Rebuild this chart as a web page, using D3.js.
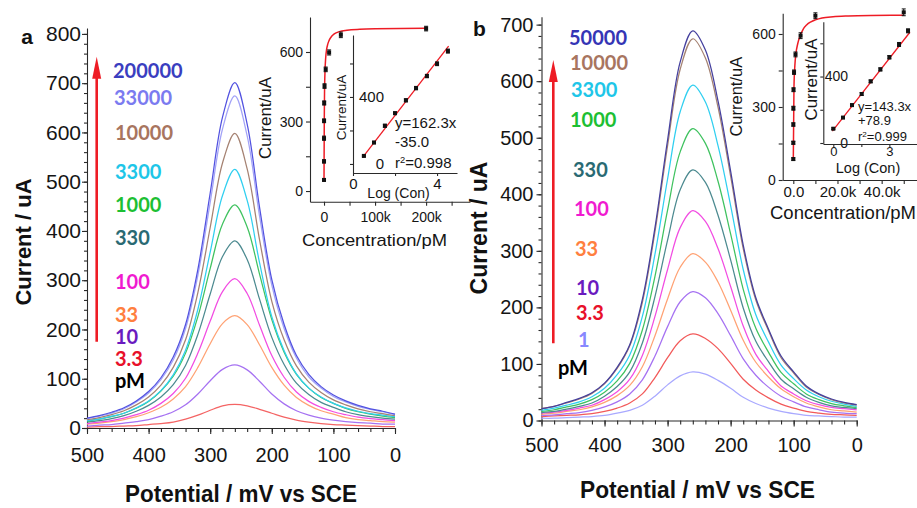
<!DOCTYPE html>
<html>
<head>
<meta charset="utf-8">
<script src="https://cdn.jsdelivr.net/npm/d3@7/dist/d3.min.js"></script>
<style>
  html, body { margin: 0; padding: 0; background: #ffffff; }
  svg { display: block; }
</style>
</head>
<body>
<svg id="chart" width="917" height="508"></svg>
<script>
// ---------------- data ----------------
// potential axis shared by every DPV trace (mV vs SCE)
const potentials = [500,480,460,440,420,400,380,360,340,320,300,280,260,240,220,200,180,160,140,120,100,80,60,40,20,0];

// panel a: concentrations (pM), peak currents (uA) and their error bars
const concLabelsA = ["3.3","10","33","100","330","1000","3300","10000","33000","200000"];
const concA = [3.3,10,33,100,330,1000,3300,10000,33000,200000];
const peakA = [48,128,228,303,380,453,525,598,674,701];
const errA = [5,7,9,8,9,10,10,11,12,10];

const dpvA_3p3   = [2,3,3,4,5,7,9,12,18,26,36,45,48,45,38,30,22,16,12,9,7,6,5,4,3,3];
const dpvA_10    = [4,6,7,10,13,17,24,33,47,69,96,119,128,118,95,69,49,35,26,20,16,13,11,10,8,8];
const dpvA_33    = [8,10,13,17,23,31,42,59,84,123,171,212,228,210,169,123,87,62,46,35,28,21,17,15,13,12];
const dpvA_100   = [9,12,15,20,27,36,50,70,101,152,217,277,303,273,209,147,103,73,54,42,33,27,22,19,17,15];
const dpvA_330   = [12,15,19,25,34,46,63,88,127,190,272,348,380,342,262,184,129,91,68,52,42,33,27,23,20,18];
const dpvA_1000  = [14,18,23,30,40,54,75,105,152,226,324,414,453,408,313,220,154,109,81,62,50,40,33,28,24,21];
const dpvA_3300  = [15,18,24,30,41,55,76,108,158,241,357,472,525,462,336,226,157,110,81,63,50,41,34,29,26,23];
const dpvA_10000 = [17,21,27,35,47,63,87,123,179,275,407,538,598,526,383,257,179,126,93,72,57,47,39,33,29,25];
const dpvA_33000 = [19,24,30,39,53,71,98,138,202,310,458,607,674,593,431,290,202,142,104,81,64,53,44,38,33,27];
const dpvA_200000= [20,25,32,41,55,74,102,144,210,322,477,631,701,617,449,301,210,147,109,84,67,55,46,39,34,28];

// panel a calibration fit (saturation curve on linear axis)
const fitConcA = [0,500,1000,2000,3300,5000,7500,10000,15000,20000,30000,45000,70000,100000,150000,200000];
const fitCurA  = [40,300,420,520,575,610,635,650,668,678,688,694,698,700,701,702];
// panel a linear fit vs log concentration
const slopeA = 162.3;
const interceptA = -35.0;
const r2A = "0.998";
const fitLogRangeA = [0.45, 4.55];

// panel b
const concLabelsB = ["1","3.3","10","33","100","330","1000","3300","10000","50000"];
const concB = [1,3.3,10,33,100,330,1000,3300,10000,50000];
const peakB = [86,153,228,295,371,443,516,593,675,689];
const errB = [5,6,7,8,8,9,10,12,12,14];

const dpvB_1     = [4,4,5,6,7,9,13,18,27,43,63,79,86,82,71,57,41,30,22,16,12,9,8,7,6,6];
const dpvB_3p3   = [7,8,9,10,12,16,22,31,47,76,111,141,153,145,127,101,73,54,40,29,22,16,13,11,10,9];
const dpvB_10    = [9,10,12,14,18,24,33,47,72,114,166,210,228,217,189,150,109,80,59,43,33,24,19,15,13,12];
const dpvB_33    = [11,13,16,19,24,32,44,62,95,150,215,271,295,280,245,195,142,103,77,56,42,31,24,19,17,15];
const dpvB_100   = [13,15,18,22,27,37,51,73,115,184,267,341,371,352,304,237,167,117,87,61,47,35,28,23,21,19];
const dpvB_330   = [14,16,20,25,31,43,60,86,137,219,319,408,443,421,363,284,199,140,104,73,56,41,32,26,23,21];
const dpvB_1000  = [16,19,24,29,37,50,70,101,160,255,372,475,516,490,423,330,232,163,121,85,65,47,37,30,26,23];
const dpvB_3300  = [18,22,27,33,42,57,81,116,184,294,427,546,593,563,486,380,267,187,139,98,74,54,42,34,29,25];
const dpvB_10000 = [21,25,31,38,48,65,92,132,209,334,486,621,675,641,554,432,304,213,159,111,84,59,46,37,31,27];
const dpvB_50000 = [21,25,32,39,49,66,94,134,214,341,496,634,689,655,565,441,310,217,162,114,86,61,47,38,32,28];

const fitConcB = [0,300,700,1200,2000,3000,4500,6000,8000,10000,13000,18000,25000,35000,50000];
const fitCurB  = [80,380,470,520,560,590,620,637,650,658,666,671,674,676,677];
const slopeB = 143.3;
const interceptB = 78.9;
const r2B = "0.999";
const fitLogRangeB = [-0.05, 4.1];

const seriesA = [dpvA_3p3, dpvA_10, dpvA_33, dpvA_100, dpvA_330, dpvA_1000, dpvA_3300, dpvA_10000, dpvA_33000, dpvA_200000];
const seriesB = [dpvB_1, dpvB_3p3, dpvB_10, dpvB_33, dpvB_100, dpvB_330, dpvB_1000, dpvB_3300, dpvB_10000, dpvB_50000];

// ---------------- styling ----------------
const FONT = '"Liberation Sans", Arial, Helvetica, sans-serif';
const LABEL_FONT = 'Lato, "Open Sans", sans-serif';
const RED = '#ee1c25';

const lineColA  = ['#f46464','#a672f2','#ffa274','#f24ce2','#4c8a90','#3fc25f','#30cff0','#a58272','#a3a3f7','#5252e0'];
const labelColA = ['#e8102a','#6a1abf','#ff7f3f','#f01ad0','#2a6a73','#1dbf33','#1ec6e8','#a8755f','#7b7bf0','#3a3ec0'];
const lineColB  = ['#a9a9ff','#f25a5a','#a672f2','#ffa274','#f24ce2','#4c8a90','#3fc25f','#30cff0','#a58272','#45409e'];
const labelColB = ['#8888ff','#e8102a','#6a1abf','#ff7f3f','#f01ad0','#2a6a73','#1dbf33','#1ec6e8','#a8755f','#3535b5'];

const svg = d3.select('#chart');

function styleAxis(sel, size) {
  sel.attr('font-family', FONT).attr('font-size', size);
  sel.selectAll('path, line').attr('stroke', '#2a2a2a').attr('stroke-width', 1.1);
  sel.selectAll('text').attr('fill', '#151515');
}

// ---------------- main DPV panels ----------------
function drawMain(p) {
  const g = svg.append('g');
  const x = d3.scaleLinear().domain([500, 0]).range([p.x0, p.x1]);
  const y = d3.scaleLinear().domain([0, p.ymax]).range([p.y0, p.y1]);

  // minor ticks
  g.append('g').attr('transform', `translate(0,${p.y0})`)
    .call(d3.axisBottom(x).tickValues(d3.range(0, 501, 20)).tickSize(4).tickSizeOuter(0).tickFormat(''))
    .call(s => { s.select('.domain').remove(); styleAxis(s, 10); });
  g.append('g').attr('transform', `translate(${p.x0},0)`)
    .call(d3.axisLeft(y).tickValues(d3.range(0, p.yMajorMax + 1, 20)).tickSize(3).tickSizeOuter(0).tickFormat(''))
    .call(s => { s.select('.domain').remove(); styleAxis(s, 10); });

  // major axes
  const xa = g.append('g').attr('transform', `translate(0,${p.y0})`)
    .call(d3.axisBottom(x).tickValues(d3.range(0, 501, 100)).tickSize(6).tickSizeOuter(0));
  styleAxis(xa, p.xTickFont);
  xa.selectAll('text').attr('y', p.xLabelOff).attr('dy', '0.35em');

  const ya = g.append('g').attr('transform', `translate(${p.x0},0)`)
    .call(d3.axisLeft(y).tickValues(d3.range(0, p.yMajorMax + 1, 100)).tickSize(5).tickPadding(p.yPad).tickSizeOuter(0));
  styleAxis(ya, p.yTickFont);

  // traces
  const line = d3.line()
    .x((d, i) => x(potentials[i]))
    .y(d => y(d))
    .curve(d3.curveCatmullRom.alpha(0.5));
  g.append('g').selectAll('path').data(p.series).join('path')
    .attr('d', line)
    .attr('fill', 'none')
    .attr('stroke', (d, i) => p.lineCols[i])
    .attr('stroke-width', 1.25);

  // concentration labels
  g.append('g').selectAll('text').data(p.labels).join('text')
    .attr('x', (d, i) => p.labelX[i])
    .attr('y', (d, i) => p.labelY[i])
    .attr('dy', '0.35em')
    .attr('font-family', LABEL_FONT)
    .attr('font-weight', 700)
    .attr('font-size', 20)
    .attr('fill', (d, i) => p.labelCols[i])
    .text(d => d);
  g.append('text')
    .attr('x', p.pmX).attr('y', p.pmY).attr('dy', '0.35em')
    .attr('font-family', LABEL_FONT).attr('font-weight', 700).attr('font-size', 20)
    .attr('fill', '#000').text('pM');

  // increasing-concentration arrow
  g.append('line')
    .attr('x1', p.arrow.x).attr('x2', p.arrow.x)
    .attr('y1', p.arrow.yBottom).attr('y2', p.arrow.yTip + 18)
    .attr('stroke', RED).attr('stroke-width', 2.6);
  g.append('path')
    .attr('d', `M${p.arrow.x},${p.arrow.yTip} L${p.arrow.x - 4.5},${p.arrow.yTip + 22} L${p.arrow.x + 4.5},${p.arrow.yTip + 22} Z`)
    .attr('fill', RED);

  // axis titles
  g.append('text')
    .attr('transform', `translate(${p.yTitle[0]},${p.yTitle[1]}) rotate(-90)`)
    .attr('text-anchor', 'middle').attr('dy', '0.35em')
    .attr('font-family', FONT).attr('font-weight', 700).attr('font-size', p.yTitleSize)
    .attr('fill', '#111')
    .text('Current / uA');
  g.append('text')
    .attr('x', p.xTitle[0] - p.xTitleLen / 2).attr('y', p.xTitle[1]).attr('dy', '0.35em')
    .attr('textLength', p.xTitleLen).attr('lengthAdjust', 'spacingAndGlyphs')
    .attr('font-family', FONT).attr('font-weight', 700).attr('font-size', 24)
    .attr('fill', '#111')
    .text('Potential / mV vs SCE');

  g.append('text')
    .attr('x', p.letter[0]).attr('y', p.letter[1]).attr('dy', '0.35em')
    .attr('text-anchor', 'middle')
    .attr('font-family', FONT).attr('font-weight', 700).attr('font-size', 21)
    .attr('fill', '#111').text(p.letterText);
}

drawMain({
  x0: 87, x1: 395, y0: 428, y1: 28, ymax: 812, yMajorMax: 800,
  xTickFont: 20, yTickFont: 21, xLabelOff: 27, yPad: 1,
  series: seriesA, lineCols: lineColA,
  labels: concLabelsA, labelCols: labelColA,
  labelX: [115,115,115,115,115,115,115,115,114,113],
  labelY: [358.5,336.5,314.5,281.7,238,205,171.7,133.3,98.3,70.7],
  pmX: 115, pmY: 381,
  arrow: { x: 96.7, yBottom: 341.7, yTip: 56.7 },
  yTitle: [23, 242], yTitleSize: 22,
  xTitle: [241, 494], xTitleLen: 232,
  letter: [27, 36.7], letterText: 'a'
});

drawMain({
  x0: 541.5, x1: 856.7, y0: 420.5, y1: 16.7, ymax: 714, yMajorMax: 700,
  xTickFont: 20, yTickFont: 20, xLabelOff: 24.5, yPad: 3,
  series: seriesB, lineCols: lineColB,
  labels: concLabelsB, labelCols: labelColB,
  labelX: [578,576,576,575,574,573,570,571,570,569],
  labelY: [340,312.7,288.3,249.3,209.3,170,120,90,63.3,38.3],
  pmX: 558, pmY: 368.3,
  arrow: { x: 553.3, yBottom: 343.3, yTip: 60 },
  yTitle: [478.5, 228], yTitleSize: 23,
  xTitle: [697.5, 490], xTitleLen: 235,
  letter: [479.5, 28.3], letterText: 'b'
});

// ---------------- calibration insets ----------------
function drawPoints(g, xs, ys, errs, x, y) {
  const pts = g.append('g');
  xs.forEach((cx, i) => {
    const px = x(cx), py = y(ys[i]), e = errs[i];
    pts.append('line').attr('x1', px).attr('x2', px).attr('y1', y(ys[i] - e)).attr('y2', y(ys[i] + e))
      .attr('stroke', '#111').attr('stroke-width', 1);
    [ys[i] - e, ys[i] + e].forEach(v => {
      pts.append('line').attr('x1', px - 2).attr('x2', px + 2).attr('y1', y(v)).attr('y2', y(v))
        .attr('stroke', '#111').attr('stroke-width', 1);
    });
    pts.append('rect').attr('x', px - 2).attr('y', py - 2).attr('width', 4).attr('height', 4).attr('fill', '#111');
  });
}

function textAt(g, x, y, str, size, opts = {}) {
  const t = g.append('text')
    .attr('x', x).attr('y', y).attr('dy', '0.35em')
    .attr('font-family', FONT).attr('font-size', size).attr('fill', '#151515')
    .attr('text-anchor', opts.anchor || 'start');
  if (opts.rotate) t.attr('transform', `rotate(-90,${x},${y})`);
  if (opts.len) t.attr('textLength', opts.len).attr('lengthAdjust', 'spacingAndGlyphs');
  t.text(str);
  return t;
}

function r2Text(g, x, y, val, size) {
  const t = g.append('text').attr('x', x).attr('y', y).attr('dy', '0.35em')
    .attr('font-family', FONT).attr('font-size', size).attr('fill', '#151515');
  t.append('tspan').text('r');
  t.append('tspan').attr('baseline-shift', 'super').attr('font-size', size * 0.62).text('2');
  t.append('tspan').text('=' + val);
}

function drawInset(c) {
  const g = svg.append('g');
  // outer: current vs concentration
  const xO = d3.scaleLinear().domain(c.outerX).range(c.outerXR);
  const yO = d3.scaleLinear().domain(c.outerY).range(c.outerYR);
  const oy = g.append('g').attr('transform', `translate(${c.outerXR[0]},0)`)
    .call(d3.axisLeft(yO).tickValues([0,150,300,450,600]).tickSize(4).tickPadding(3).tickSizeOuter(0)
      .tickFormat(d => d % 300 === 0 ? d : ''));
  styleAxis(oy, 14);
  const ox = g.append('g').attr('transform', `translate(0,${c.outerYR[0]})`)
    .call(d3.axisBottom(xO).tickValues(c.outerTicks).tickSize(4).tickSizeOuter(0).tickFormat(c.outerFmt));
  styleAxis(ox, c.outerXFont);
  ox.selectAll('text').attr('y', c.outerXLabelOff).attr('dy', '0.35em');

  const fitLine = d3.line().x((d, i) => xO(c.fitConc[i])).y(d => yO(d)).curve(d3.curveMonotoneX);
  g.append('path').attr('d', fitLine(c.fitCur)).attr('fill', 'none').attr('stroke', RED).attr('stroke-width', 1.5);
  drawPoints(g, c.conc, c.peak, c.err, xO, yO);

  textAt(g, c.outerYTitle[0], c.outerYTitle[1], 'Current/uA', c.outerYTitleSize, { anchor: 'middle', rotate: true });
  textAt(g, c.outerXTitle[0], c.outerXTitle[1], 'Concentration/pM', c.outerXTitleSize, { anchor: 'middle', len: c.outerXTitleLen });

  // inner: current vs log concentration
  const xI = d3.scaleLinear().domain(c.innerX).range(c.innerXR);
  const yI = d3.scaleLinear().domain(c.innerY).range(c.innerYR);
  const iy = g.append('g').attr('transform', `translate(${c.innerXR[0]},0)`)
    .call(d3.axisLeft(yI).tickValues([0,200,400,600]).tickSize(3).tickSizeOuter(0).tickFormat(''));
  styleAxis(iy, 10);
  [0, 400].forEach(v => textAt(g, c.innerYLabelX, yI(v), String(v), c.innerTickFont, { anchor: 'end' }));
  const ix = g.append('g').attr('transform', `translate(0,${c.innerYR[0]})`)
    .call(d3.axisBottom(xI).tickValues(c.innerTicks).tickSize(3).tickSizeOuter(0)
      .tickFormat(d => c.innerLabeled.includes(d) ? d : ''));
  styleAxis(ix, c.innerXTickFont);
  ix.selectAll('text').attr('y', c.innerXLabelOff).attr('dy', '0.35em');

  const lx = c.fitLogRange;
  g.append('line')
    .attr('x1', xI(lx[0])).attr('y1', yI(c.slope * lx[0] + c.intercept))
    .attr('x2', xI(lx[1])).attr('y2', yI(c.slope * lx[1] + c.intercept))
    .attr('stroke', RED).attr('stroke-width', 1.3);
  const nIn = c.innerCount;
  drawPoints(g, c.conc.slice(0, nIn).map(v => Math.log10(v)), c.peak.slice(0, nIn), c.err.slice(0, nIn), xI, yI);

  textAt(g, c.innerYTitle[0], c.innerYTitle[1], 'Current/uA', c.innerYTitleSize, { anchor: 'middle', rotate: true });
  textAt(g, c.innerXTitle[0], c.innerXTitle[1], 'Log (Con)', c.innerXTitleSize, { anchor: 'middle' });

  const ex = c.eqX, ey = c.eqY;
  textAt(g, ex, ey[0], `y=${c.slope.toFixed(1)}x`, c.eqSize);
  textAt(g, ex, ey[1], (c.intercept < 0 ? '-' : '+') + Math.abs(c.intercept).toFixed(1), c.eqSize);
  r2Text(g, ex, ey[2], c.r2, c.eqSize);
}

drawInset({
  outerX: [-27450, 286000], outerXR: [310, 470],
  outerY: [-46, 751], outerYR: [201.7, 17],
  outerTicks: [0,50000,100000,150000,200000,250000],
  outerFmt: d => d === 0 ? '0' : (d % 100000 === 0 ? (d / 1000) + 'k' : ''),
  outerXFont: 14, outerXLabelOff: 15,
  fitConc: fitConcA, fitCur: fitCurA,
  conc: concA, peak: peakA, err: errA,
  outerYTitle: [265, 118], outerYTitleSize: 17,
  outerXTitle: [374.5, 240], outerXTitleSize: 17, outerXTitleLen: 145,
  innerX: [0, 4.95], innerXR: [353, 457],
  innerY: [-54, 770], innerYR: [173, 35],
  innerYLabelX: 384, innerTickFont: 15, innerXTickFont: 15,
  innerTicks: [0, 2, 4], innerLabeled: [0, 4], innerXLabelOff: 10.5,
  fitLogRange: fitLogRangeA, slope: slopeA, intercept: interceptA, r2: r2A,
  innerCount: 9,
  innerYTitle: [341, 107.5], innerYTitleSize: 13.5,
  innerXTitle: [398.5, 193.3], innerXTitleSize: 14,
  eqX: 395, eqY: [122.7, 141.7, 162.7], eqSize: 15
});

drawInset({
  outerX: [-4800, 56000], outerXR: [782.7, 917],
  outerY: [0, 685], outerYR: [180, 13.3],
  outerTicks: [0,10000,20000,30000,40000,50000],
  outerFmt: d => d % 20000 === 0 ? (d === 0 ? '0.0' : (d / 1000).toFixed(1) + 'k') : '',
  outerXFont: 15, outerXLabelOff: 11.7,
  fitConc: fitConcB, fitCur: fitCurB,
  conc: concB, peak: peakB, err: errB,
  outerYTitle: [736.7, 96.7], outerYTitleSize: 16.5,
  outerXTitle: [843, 212.7], outerXTitleSize: 18, outerXTitleLen: 146,
  innerX: [-0.536, 4.48], innerXR: [823.3, 917],
  innerY: [-6, 730], innerYR: [144, 21.7],
  innerYLabelX: 848, innerTickFont: 14, innerXTickFont: 13,
  innerTicks: [0, 1.5, 3], innerLabeled: [0, 3], innerXLabelOff: 7,
  fitLogRange: fitLogRangeB, slope: slopeB, intercept: interceptB, r2: r2B,
  innerCount: 9,
  innerYTitle: [811, 79.5], innerYTitleSize: 17,
  innerXTitle: [868, 168], innerXTitleSize: 14.5,
  eqX: 858, eqY: [106, 120.7, 136], eqSize: 13
});
</script>
</body>
</html>
